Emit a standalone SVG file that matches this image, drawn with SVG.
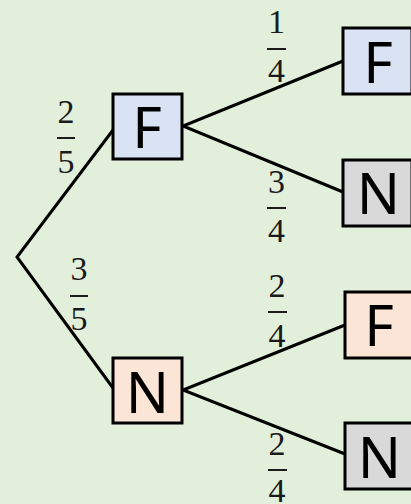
<svg xmlns="http://www.w3.org/2000/svg" width="411" height="504" viewBox="0 0 411 504">
<style>
.box{stroke:#000;stroke-width:3}
.blue{fill:#dae3f3}
.peach{fill:#fbe5d6}
.gray{fill:#d9d9d9}
.lbl{font-family:"Noto Sans","Open Sans",sans-serif;font-size:57px;fill:#000;text-anchor:middle}
.num{font-family:"Liberation Serif","DejaVu Serif",serif;font-size:34px;fill:#1a1a1a;text-anchor:middle}
.bar{stroke:#1a1a1a;stroke-width:2}
.edge{stroke:#000;stroke-width:3;fill:none}
</style>
<rect width="411" height="504" fill="#e2efda"/>
<g id="connectors">
<polyline class="edge" points="113,130 17,257 113,388"/>
<polyline class="edge" points="343,61 183,126 343,192"/>
<polyline class="edge" points="345,325 183,390 345,454"/>
</g>
<g id="labels">
<g id="p-2-5"><text class="num" x="66" y="123">2</text><line class="bar" x1="57" y1="138" x2="75" y2="138"/><text class="num" x="66" y="173">5</text></g>
<g id="p-3-5"><text class="num" x="79" y="280">3</text><line class="bar" x1="70" y1="296" x2="88" y2="296"/><text class="num" x="79" y="330">5</text></g>
<g id="p-1-4"><text class="num" x="276.5" y="33">1</text><line class="bar" x1="267" y1="49" x2="286" y2="49"/><text class="num" x="276.5" y="82">4</text></g>
<g id="p-3-4"><text class="num" x="276.5" y="193">3</text><line class="bar" x1="267" y1="208" x2="286" y2="208"/><text class="num" x="276.5" y="242">4</text></g>
<g id="p-2-4a"><text class="num" x="277" y="297">2</text><line class="bar" x1="268" y1="312" x2="287" y2="312"/><text class="num" x="277" y="347">4</text></g>
<g id="p-2-4b"><text class="num" x="277" y="455">2</text><line class="bar" x1="268" y1="470" x2="287" y2="470"/><text class="num" x="277" y="502">4</text></g>
</g>
<g id="F1"><rect class="box blue" x="113" y="94" width="69" height="65"/><text class="lbl" x="147" y="148">F</text></g>
<g id="N1"><rect class="box peach" x="113" y="358" width="69" height="65"/><text class="lbl" x="147.5" y="413">N</text></g>
<g id="FF"><rect class="box blue" x="343" y="28" width="69" height="66"/><text class="lbl" x="378" y="83">F</text></g>
<g id="FN"><rect class="box gray" x="343" y="160" width="69" height="66"/><text class="lbl" x="378.5" y="214">N</text></g>
<g id="NF"><rect class="box peach" x="345" y="292" width="69" height="66"/><text class="lbl" x="379" y="346">F</text></g>
<g id="NN"><rect class="box gray" x="345" y="423" width="69" height="66"/><text class="lbl" x="379.5" y="478">N</text></g>
</svg>
